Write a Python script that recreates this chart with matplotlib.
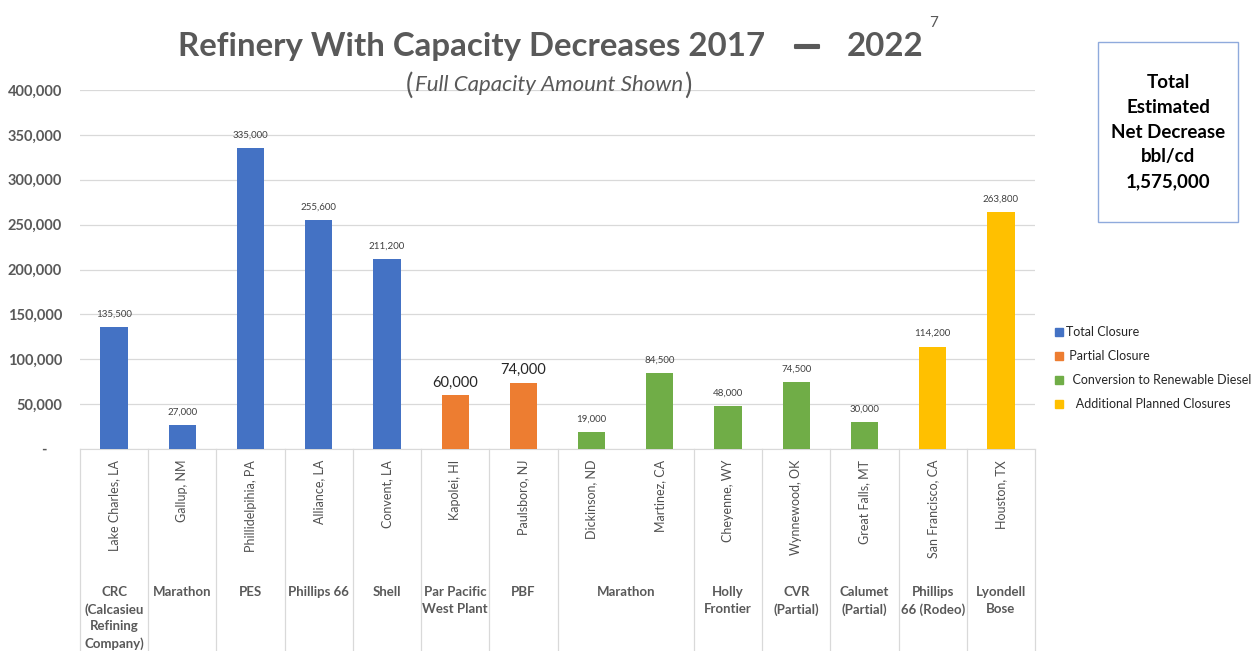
import matplotlib.pyplot as plt
import matplotlib.transforms as mtransforms
import matplotlib.patheffects as pe
from matplotlib.patches import Patch, Rectangle
from matplotlib.ticker import FuncFormatter

plt.rcParams["font.family"] = ["Lato", "DejaVu Sans"]

# data
locations = ["Lake Charles, LA", "Gallup, NM", "Phillidelpihia, PA", "Alliance, LA",
             "Convent, LA", "Kapolei, HI", "Paulsboro, NJ", "Dickinson, ND",
             "Martinez, CA", "Cheyenne, WY", "Wynnewood, OK", "Great Falls, MT",
             "San Francisco, CA", "Houston, TX"]
capacity = [135500, 27000, 335000, 255600, 211200, 60000, 74000, 19000,
            84500, 48000, 74500, 30000, 114200, 263800]
status = ["Total Closure"] * 5 + ["Partial Closure"] * 2 + \
         ["Conversion to Renewable Diesel"] * 5 + ["Additional Planned Closures"] * 2
company_names = ["CRC\n(Calcasieu\nRefining\nCompany)", "Marathon", "PES", "Phillips 66",
                 "Shell", "Par Pacific\nWest Plant", "PBF", "Marathon", "Holly\nFrontier",
                 "CVR\n(Partial)", "Calumet\n(Partial)", "Phillips\n66 (Rodeo)", "Lyondell\nBose"]
company_first = [0, 1, 2, 3, 4, 5, 6, 7, 9, 10, 11, 12, 13]
company_last = [0, 1, 2, 3, 4, 5, 6, 8, 9, 10, 11, 12, 13]
status_names = ["Total Closure", "Partial Closure", "Conversion to Renewable Diesel",
                "Additional Planned Closures"]
legend_labels = ["Total Closure", " Partial Closure", "  Conversion to Renewable Diesel",
                 "   Additional Planned Closures"]
status_colors = {"Total Closure": "#4472C4", "Partial Closure": "#ED7D31",
                 "Conversion to Renewable Diesel": "#70AD47",
                 "Additional Planned Closures": "#FFC000"}
big_labels = [5, 6]  # these two data labels are drawn larger in the original

W, H = 1258, 651
fig = plt.figure(figsize=(W / 100, H / 100), dpi=100)
ax = fig.add_axes([80 / W, (H - 449) / H, (1035 - 80) / W, (449 - 90) / H])

x = list(range(len(locations)))
cols = [status_colors[s] for s in status]
bars = ax.bar(x, capacity, width=0.4, color=cols, zorder=3)

for i, b in enumerate(bars):
    if i in big_labels:
        ax.annotate(f"{capacity[i]:,}", (b.get_x() + b.get_width() / 2, capacity[i]),
                    xytext=(0, 4), textcoords="offset points", ha="center", va="bottom",
                    fontsize=10.5, color="#262626")
    else:
        ax.annotate(f"{capacity[i]:,}", (b.get_x() + b.get_width() / 2, capacity[i]),
                    xytext=(0, 6), textcoords="offset points", ha="center", va="bottom",
                    fontsize=7, color="#404040")

ax.set_xlim(-0.5, len(locations) - 0.5)
ax.set_ylim(0, 400000)
ax.set_yticks(range(0, 400001, 50000))
ax.yaxis.set_major_formatter(FuncFormatter(lambda v, p: f"{int(v):,}" if v else "-    "))
ax.tick_params(axis="y", length=0, pad=13, labelsize=10.5, labelcolor="#595959")
for t in ax.get_yticklabels():
    t.set_fontweight("bold")
ax.set_xticks([])
ax.grid(axis="y", color="#D9D9D9", lw=0.9, zorder=0)
for s in ["top", "right", "left"]:
    ax.spines[s].set_visible(False)
ax.spines["bottom"].set_color("#D9D9D9")

# multi-level category axis
trans = mtransforms.blended_transform_factory(ax.transData, ax.transAxes)
for i, loc in enumerate(locations):
    ax.text(i, -0.03, loc, transform=trans, rotation=90, ha="center", va="top",
            fontsize=9, color="#505050")
seps = [company_first[0] - 0.5] + [c + 0.5 for c in company_last]
for sx in seps:
    ax.plot([sx, sx], [0, -0.6], transform=trans, color="#D9D9D9", lw=0.9, clip_on=False)
for name, a, b in zip(company_names, company_first, company_last):
    ax.text((a + b) / 2, -0.382, name, transform=trans, ha="center", va="top",
            fontsize=9.5, fontweight="bold", color="#595959", linespacing=1.45)

# title
tcol = "#595959"
fig.text(178 / W, (H - 56) / H, "Refinery With Capacity Decreases 2017", ha="left",
         va="baseline", fontsize=23.8, fontweight="bold", color=tcol)
fig.text(807 / W, (H - 57) / H, "\u2014", ha="center", va="baseline", fontsize=26,
         fontweight="bold", color=tcol,
         path_effects=[pe.withStroke(linewidth=1.5, foreground=tcol)])
fig.text(847 / W, (H - 56) / H, "2022", ha="left", va="baseline", fontsize=23.8,
         fontweight="bold", color=tcol)
fig.text(929 / W, (H - 27) / H, "7", ha="left", va="baseline", fontsize=11, color=tcol)

fig.text(549 / W, (H - 85) / H, "Full Capacity Amount Shown", ha="center", va="center",
         fontsize=16, style="italic", color=tcol)
fig.text(409 / W, (H - 85) / H, "(", ha="center", va="center", fontsize=20, color=tcol)
fig.text(688 / W, (H - 85) / H, ")", ha="center", va="center", fontsize=20, color=tcol)

# total box
fig.patches.append(Rectangle((1098 / W, (H - 222) / H), 140 / W, 180 / H,
                             transform=fig.transFigure, fill=False, ec="#8FAADC", lw=1))
fig.text(1168 / W, (H - 132) / H, "Total\nEstimated\nNet Decrease\nbbl/cd\n1,575,000",
         ha="center", va="center", fontsize=13.5, fontweight="bold", color="black",
         linespacing=1.56)

handles = [Patch(color=status_colors[s]) for s in status_names]
fig.legend(handles, legend_labels, loc="upper left", bbox_to_anchor=(1049 / W, (H - 320) / H),
           frameon=False, fontsize=9, handlelength=0.6, handleheight=0.6,
           handletextpad=0.3, labelspacing=0.96, labelcolor="#262626", borderpad=0)

fig.savefig("out.png", dpi=100)
